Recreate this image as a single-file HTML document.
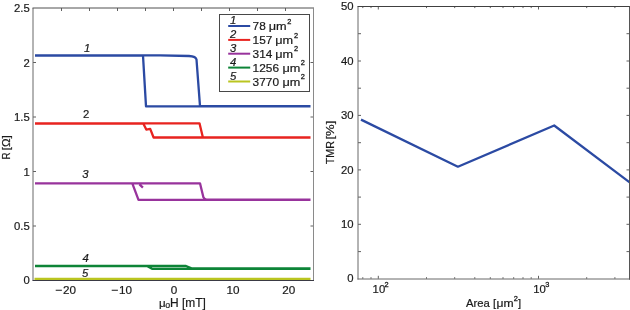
<!DOCTYPE html>
<html>
<head>
<meta charset="utf-8">
<style>
html,body{margin:0;padding:0;background:#fff;}
body{width:630px;height:310px;overflow:hidden;}
svg{display:block;will-change:transform;font-family:"Liberation Sans",sans-serif;}
.t{font-size:11.3px;fill:#1a1a1a;stroke:#1a1a1a;stroke-width:0.2px;}
.s{font-size:7.4px;fill:#1a1a1a;stroke:#1a1a1a;stroke-width:0.3px;}
</style>
</head>
<body>
<svg width="630" height="310" viewBox="0 0 630 310">
<rect width="630" height="310" fill="#fff"/>

<!-- ===== LEFT PLOT ===== -->
<g stroke="#606060" stroke-width="1" fill="none">
  <path d="M33,226h3M313.5,226h-3M33,171.5h3M313.5,171.5h-3M33,117h3M313.5,117h-3M33,62.5h3M313.5,62.5h-3"/>
  <path d="M61.5,8v3M89.5,8v3M117.5,8v3M145.5,8v3M173.5,8v3M201.5,8v3M229.5,8v3M257.5,8v3M285.5,8v3"/>
</g>
<g fill="none" stroke-width="2.3" stroke-linejoin="round" stroke-linecap="butt">
  <path stroke="#2b4aa3" d="M35,55.4H160L189,56Q195.8,56.4 196.5,59.5L200,106.2H310.5M310.5,106.4H146L143,55.6H35"/>
  <path stroke="#e8231f" d="M35,123.3H199.5L202.9,137.5H310.5M310.5,137.5H153.6L150.2,128.9L146.3,129.6L143.4,123.7H35"/>
  <path stroke="#98339c" d="M35,183.3H200L203.4,197.3Q204.5,199.4 206.6,199.7H310.5M310.5,199.8H138.5L132.3,183.3H35M139.5,184.3L142.9,187.6"/>
  <path stroke="#0d8437" d="M35,266H186L191.5,268.4H310.5M310.5,268.8H152L147,266.1H35"/>
  <path stroke="#bac520" d="M34.5,278.9H310.5"/>
</g>
<path d="M33,280.5V8" fill="none" stroke="#686868" stroke-width="1"/>
<path d="M32.5,8H314" fill="none" stroke="#505050" stroke-width="1"/>
<path d="M313.5,8V280.5" fill="none" stroke="#8a8a8a" stroke-width="1"/>
<path d="M32.5,280.5H314" fill="none" stroke="#3a3a44" stroke-width="1"/>

<g class="t" text-anchor="end">
  <text x="29.7" y="284.1">0</text>
  <text x="29.7" y="230">0.5</text>
  <text x="29.7" y="175.5">1</text>
  <text x="29.7" y="121">1.5</text>
  <text x="29.7" y="66.5">2</text>
  <text x="29.7" y="12">2.5</text>
</g>
<g class="t" text-anchor="middle" style="font-size:11.7px">
  <text x="69.6" y="294">20</text>
  <text x="125.5" y="294">10</text>
  <text x="174.1" y="294">0</text>
  <text x="233.1" y="294">10</text>
  <text x="288.8" y="294">20</text>
</g>
<path d="M55.7,290.3h6.2M111.7,290.3h6.2" stroke="#1a1a1a" stroke-width="1.05"/>
<text class="t" x="159" y="306.9" style="font-size:11.5px">&#956;</text><text class="t" x="165.3" y="307.9" style="font-size:8.8px">o</text><text class="t" x="170" y="306.7" style="font-size:12.2px" textLength="35.8" lengthAdjust="spacingAndGlyphs">H [mT]</text>
<text class="t" transform="translate(10.4,159.6) rotate(-90)" style="font-size:11.8px"><tspan textLength="7" lengthAdjust="spacingAndGlyphs">R</tspan><tspan x="9.3" textLength="15" lengthAdjust="spacingAndGlyphs">[&#937;]</tspan></text>

<g class="t">
  <text x="84" y="51.5" font-style="italic">1</text>
  <text x="83" y="118.3">2</text>
  <text x="82.2" y="178.1" font-style="italic">3</text>
  <text x="82.6" y="262.2" font-style="italic">4</text>
  <text x="82" y="277.3" font-style="italic">5</text>
</g>

<!-- legend -->
<rect x="219.5" y="14.5" width="90" height="77" fill="#fff" stroke="#484848" stroke-width="1"/>
<g stroke-width="2" fill="none">
  <path stroke="#2b4aa3" d="M228.2,26.0H250.2"/>
  <path stroke="#e8231f" d="M228.2,39.9H250.2"/>
  <path stroke="#98339c" d="M228.2,53.7H250.2"/>
  <path stroke="#0d8437" d="M228.2,67.6H250.2"/>
  <path stroke="#bac520" d="M228.2,81.5H250.2"/>
</g>
<g class="t" font-style="italic">
  <text x="230.1" y="24.3">1</text>
  <text x="230.1" y="38.2">2</text>
  <text x="230.1" y="52.0">3</text>
  <text x="230.1" y="65.9">4</text>
  <text x="230.1" y="79.8">5</text>
</g>
<g class="t">
  <text x="252.6" y="30.0" textLength="13.2" lengthAdjust="spacingAndGlyphs">78</text><text x="268.8" y="30.0" textLength="17.9" lengthAdjust="spacingAndGlyphs">&#956;m</text>
  <text x="252.6" y="43.9" textLength="19.8" lengthAdjust="spacingAndGlyphs">157</text><text x="275.3" y="43.9" textLength="17.9" lengthAdjust="spacingAndGlyphs">&#956;m</text>
  <text x="252.6" y="57.8" textLength="19.8" lengthAdjust="spacingAndGlyphs">314</text><text x="275.3" y="57.8" textLength="17.9" lengthAdjust="spacingAndGlyphs">&#956;m</text>
  <text x="252.6" y="71.7" textLength="26.4" lengthAdjust="spacingAndGlyphs">1256</text><text x="282.4" y="71.7" textLength="17.9" lengthAdjust="spacingAndGlyphs">&#956;m</text>
  <text x="252.6" y="85.6" textLength="26.4" lengthAdjust="spacingAndGlyphs">3770</text><text x="282.4" y="85.6" textLength="17.9" lengthAdjust="spacingAndGlyphs">&#956;m</text>
</g>
<g class="s">
  <text x="287.2" y="23.6">2</text>
  <text x="294.0" y="37.5">2</text>
  <text x="294.0" y="51.4">2</text>
  <text x="300.8" y="65.3">2</text>
  <text x="300.8" y="79.2">2</text>
</g>

<!-- ===== RIGHT PLOT ===== -->
<g stroke="#606060" stroke-width="1" fill="none">
  <path d="M358,251.6h3M629.5,251.6h-3M358,224.3h3M629.5,224.3h-3M358,197.1h3M629.5,197.1h-3M358,169.9h3M629.5,169.9h-3M358,142.7h3M629.5,142.7h-3M358,115.4h3M629.5,115.4h-3M358,88.2h3M629.5,88.2h-3M358,61h3M629.5,61h-3M358,33.7h3M629.5,33.7h-3"/>
  <path d="M362.8,278.8v-1.6M362.8,6.5v1.6M371,278.8v-1.6M371,6.5v1.6M426.5,278.8v-1.6M426.5,6.5v1.6M454.7,278.8v-1.6M454.7,6.5v1.6M474.8,278.8v-1.6M474.8,6.5v1.6M490.3,278.8v-1.6M490.3,6.5v1.6M503,278.8v-1.6M503,6.5v1.6M513.7,278.8v-1.6M513.7,6.5v1.6M523,278.8v-1.6M523,6.5v1.6M531.2,278.8v-1.6M531.2,6.5v1.6M586.7,278.8v-1.6M586.7,6.5v1.6M614.9,278.8v-1.6M614.9,6.5v1.6M378.3,278.8v-3M378.3,6.5v3M538.5,278.8v-3M538.5,6.5v3"/>
</g>
<path stroke="#2b4aa3" stroke-width="2.3" fill="none" stroke-linejoin="round" d="M361,119.6L457.9,166.7L554.2,125.5L630,182.6"/>
<path d="M358,279.5V6.5M629.5,6.5V279.5M357.5,279H630" fill="none" stroke="#686868" stroke-width="1"/>
<path d="M357.5,6.5H630" fill="none" stroke="#404040" stroke-width="1"/>
<path d="M629.5,6.5V279.5" fill="none" stroke="#555" stroke-width="1"/>

<g class="t" text-anchor="end">
  <text x="353.6" y="282.4">0</text>
  <text x="353.6" y="227.9">10</text>
  <text x="353.6" y="173.5">20</text>
  <text x="353.6" y="119.0">30</text>
  <text x="353.6" y="64.6">40</text>
  <text x="353.6" y="10.1">50</text>
</g>
<g class="t">
  <text x="372.6" y="292.6">10</text>
  <text x="533.2" y="292.6">10</text>
</g>
<g class="s">
  <text x="384.6" y="287.1">2</text>
  <text x="545.2" y="287.1">3</text>
</g>
<text class="t" x="466" y="306.9">Area [</text><text class="t" x="496.4" y="306.9" textLength="17.1" lengthAdjust="spacingAndGlyphs">&#956;m</text><text class="s" x="513.8" y="300.9">2</text><text class="t" x="517.9" y="306.9">]</text>
<text class="t" transform="translate(333.9,164.2) rotate(-90)"><tspan textLength="23.2" lengthAdjust="spacingAndGlyphs">TMR</tspan><tspan x="24.6" textLength="19" lengthAdjust="spacingAndGlyphs">[%]</tspan></text>
</svg>
</body>
</html>
